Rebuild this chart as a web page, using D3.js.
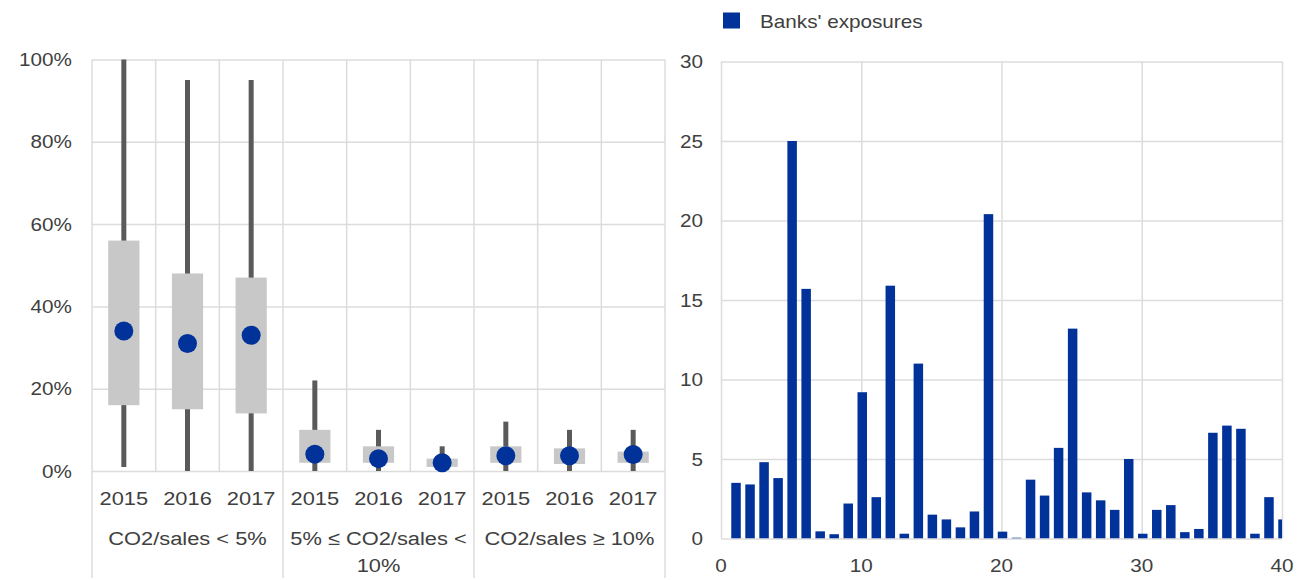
<!DOCTYPE html>
<html>
<head>
<meta charset="utf-8">
<script src="https://cdn.jsdelivr.net/npm/d3@7"></script>
<style>
  html, body { margin: 0; padding: 0; background: #fff; }
  svg { display: block; font-family: "Liberation Sans", Arial, sans-serif; }
</style>
</head>
<body>
<svg id="chart" width="1298" height="580"></svg>
<script>
// ---------- data: left panel (distribution box plots) ----------
const years = ["2015", "2016", "2017", "2015", "2016", "2017", "2015", "2016", "2017"];
const groupLabels = [["CO2/sales < 5%"], ["5% \u2264 CO2/sales <", "10%"], ["CO2/sales \u2265 10%"]];
const whiskerLow  = [0.01, 0.00, 0.00, 0.00, 0.00, 0.00, 0.00, 0.00, 0.00];
const whiskerHigh = [1.00, 0.95, 0.95, 0.22, 0.10, 0.06, 0.12, 0.10, 0.10];
const boxLow      = [0.16, 0.15, 0.14, 0.02, 0.02, 0.01, 0.02, 0.017, 0.02];
const boxHigh     = [0.56, 0.48, 0.47, 0.10, 0.06, 0.03, 0.06, 0.055, 0.047];
const dotValue    = [0.34, 0.31, 0.33, 0.041, 0.03, 0.02, 0.037, 0.037, 0.04];
const leftTicks   = [0, 0.2, 0.4, 0.6, 0.8, 1.0];

// ---------- data: right panel (banks' exposures) ----------
const barX = d3.range(1, 41);
const barValues = [3.5, 3.4, 4.8, 3.8, 25.0, 15.7, 0.45, 0.27, 2.2, 9.2,
                   2.6, 15.9, 0.3, 11.0, 1.5, 1.2, 0.7, 1.7, 20.4, 0.43,
                   0.05, 3.7, 2.7, 5.7, 13.2, 2.9, 2.4, 1.8, 5.0, 0.3,
                   1.8, 2.1, 0.4, 0.6, 6.65, 7.1, 6.9, 0.3, 2.6, 1.2];
const rightYTicks = [0, 5, 10, 15, 20, 25, 30];
const rightXTicks = [0, 10, 20, 30, 40];
const legendLabel = "Banks' exposures";

// ---------- styles ----------
const BLUE = "#003299", BOX = "#c8c8c8", WHISK = "#5a5a5a", GRID = "#dcdcdc", TXT = "#404040";
const SX = 1.15; // horizontal stretch of the reference text

const svg = d3.select("#chart");
svg.append("rect").attr("width", 1298).attr("height", 580).attr("fill", "#fff");

function label(g, x, y, str, anchor, size) {
  g.append("g").attr("transform", `translate(${x},${y}) scale(${SX},1)`)
    .append("text").attr("text-anchor", anchor).attr("font-size", size)
    .attr("fill", TXT).text(str);
}

// ================= LEFT PANEL =================
const L = { left: 92, right: 665, top: 59.5, bottom: 471 };
const xL = d3.scaleBand().domain(d3.range(years.length)).range([L.left, L.right]);
const yL = d3.scaleLinear().domain([0, 1]).range([L.bottom, L.top]);
const gL = svg.append("g");

// horizontal grid
gL.append("g").attr("transform", `translate(${L.left},0)`)
  .call(d3.axisLeft(yL).tickValues(leftTicks).tickSize(-(L.right - L.left)).tickFormat(""))
  .call(g => g.select(".domain").remove())
  .call(g => g.selectAll("line").attr("stroke", GRID).attr("stroke-width", 1.5));

// vertical grid: inner band lines stop at axis, group separators extend down
d3.range(years.length + 1).forEach(i => {
  const x = i < years.length ? xL(i) : L.right;
  const isSep = i % 3 === 0;
  gL.append("line").attr("x1", x).attr("x2", x)
    .attr("y1", L.top).attr("y2", isSep ? 578 : L.bottom)
    .attr("stroke", GRID).attr("stroke-width", 1.5);
});

// y labels
leftTicks.forEach(t => label(gL, 72, yL(t) + 6.5, d3.format(".0%")(t), "end", 18));

// boxes
const bw = xL.bandwidth() * 0.49;
years.forEach((y, i) => {
  const cx = xL(i) + xL.bandwidth() / 2;
  gL.append("line").attr("x1", cx).attr("x2", cx)
    .attr("y1", yL(whiskerLow[i])).attr("y2", yL(whiskerHigh[i]))
    .attr("stroke", WHISK).attr("stroke-width", 5);
  gL.append("rect").attr("x", cx - bw / 2).attr("width", bw)
    .attr("y", yL(boxHigh[i])).attr("height", yL(boxLow[i]) - yL(boxHigh[i]))
    .attr("fill", BOX);
  gL.append("circle").attr("cx", cx).attr("cy", yL(dotValue[i])).attr("r", 9.5).attr("fill", BLUE);
  label(gL, cx, 505, y, "middle", 19);
});

// group labels
groupLabels.forEach((lines, k) => {
  const cx = (xL(k * 3) + xL(k * 3 + 2) + xL.bandwidth()) / 2;
  lines.forEach((ln, j) => label(gL, cx, 545 + j * 27, ln, "middle", 19));
});

// ================= RIGHT PANEL =================
const R = { left: 721, right: 1282, top: 61.5, bottom: 538.5 };
const xR = d3.scaleLinear().domain([0, 40]).range([R.left, R.right]);
const yR = d3.scaleLinear().domain([0, 30]).range([R.bottom, R.top]);
const gR = svg.append("g");

gR.append("g").attr("transform", `translate(${R.left},0)`)
  .call(d3.axisLeft(yR).tickValues(rightYTicks).tickSize(-(R.right - R.left)).tickFormat(""))
  .call(g => g.select(".domain").remove())
  .call(g => g.selectAll("line").attr("stroke", GRID).attr("stroke-width", 1.5));
gR.append("g").attr("transform", `translate(0,${R.bottom})`)
  .call(d3.axisBottom(xR).tickValues(rightXTicks).tickSize(-(R.bottom - R.top)).tickFormat(""))
  .call(g => g.select(".domain").remove())
  .call(g => g.selectAll("line").attr("stroke", GRID).attr("stroke-width", 1.5));

svg.append("clipPath").attr("id", "clipR").append("rect")
  .attr("x", R.left).attr("y", R.top - 5).attr("width", R.right - R.left).attr("height", R.bottom - R.top + 5);

const barW = 9.5;
gR.append("g").attr("clip-path", "url(#clipR)")
  .selectAll("rect").data(barX).join("rect")
  .attr("x", d => xR(d) - barW / 2 + 1)
  .attr("width", barW)
  .attr("y", (d, i) => yR(barValues[i]))
  .attr("height", (d, i) => yR(0) - yR(barValues[i]))
  .attr("fill", BLUE);

rightYTicks.forEach(t => label(gR, 703, yR(t) + 6.5, String(t), "end", 18));
rightXTicks.forEach(t => label(gR, xR(t), 572, String(t), "middle", 18));

// legend
svg.append("rect").attr("x", 723).attr("y", 12.5).attr("width", 17).attr("height", 16).attr("fill", BLUE);
label(svg, 760, 27.5, legendLabel, "start", 18);
</script>
</body>
</html>
